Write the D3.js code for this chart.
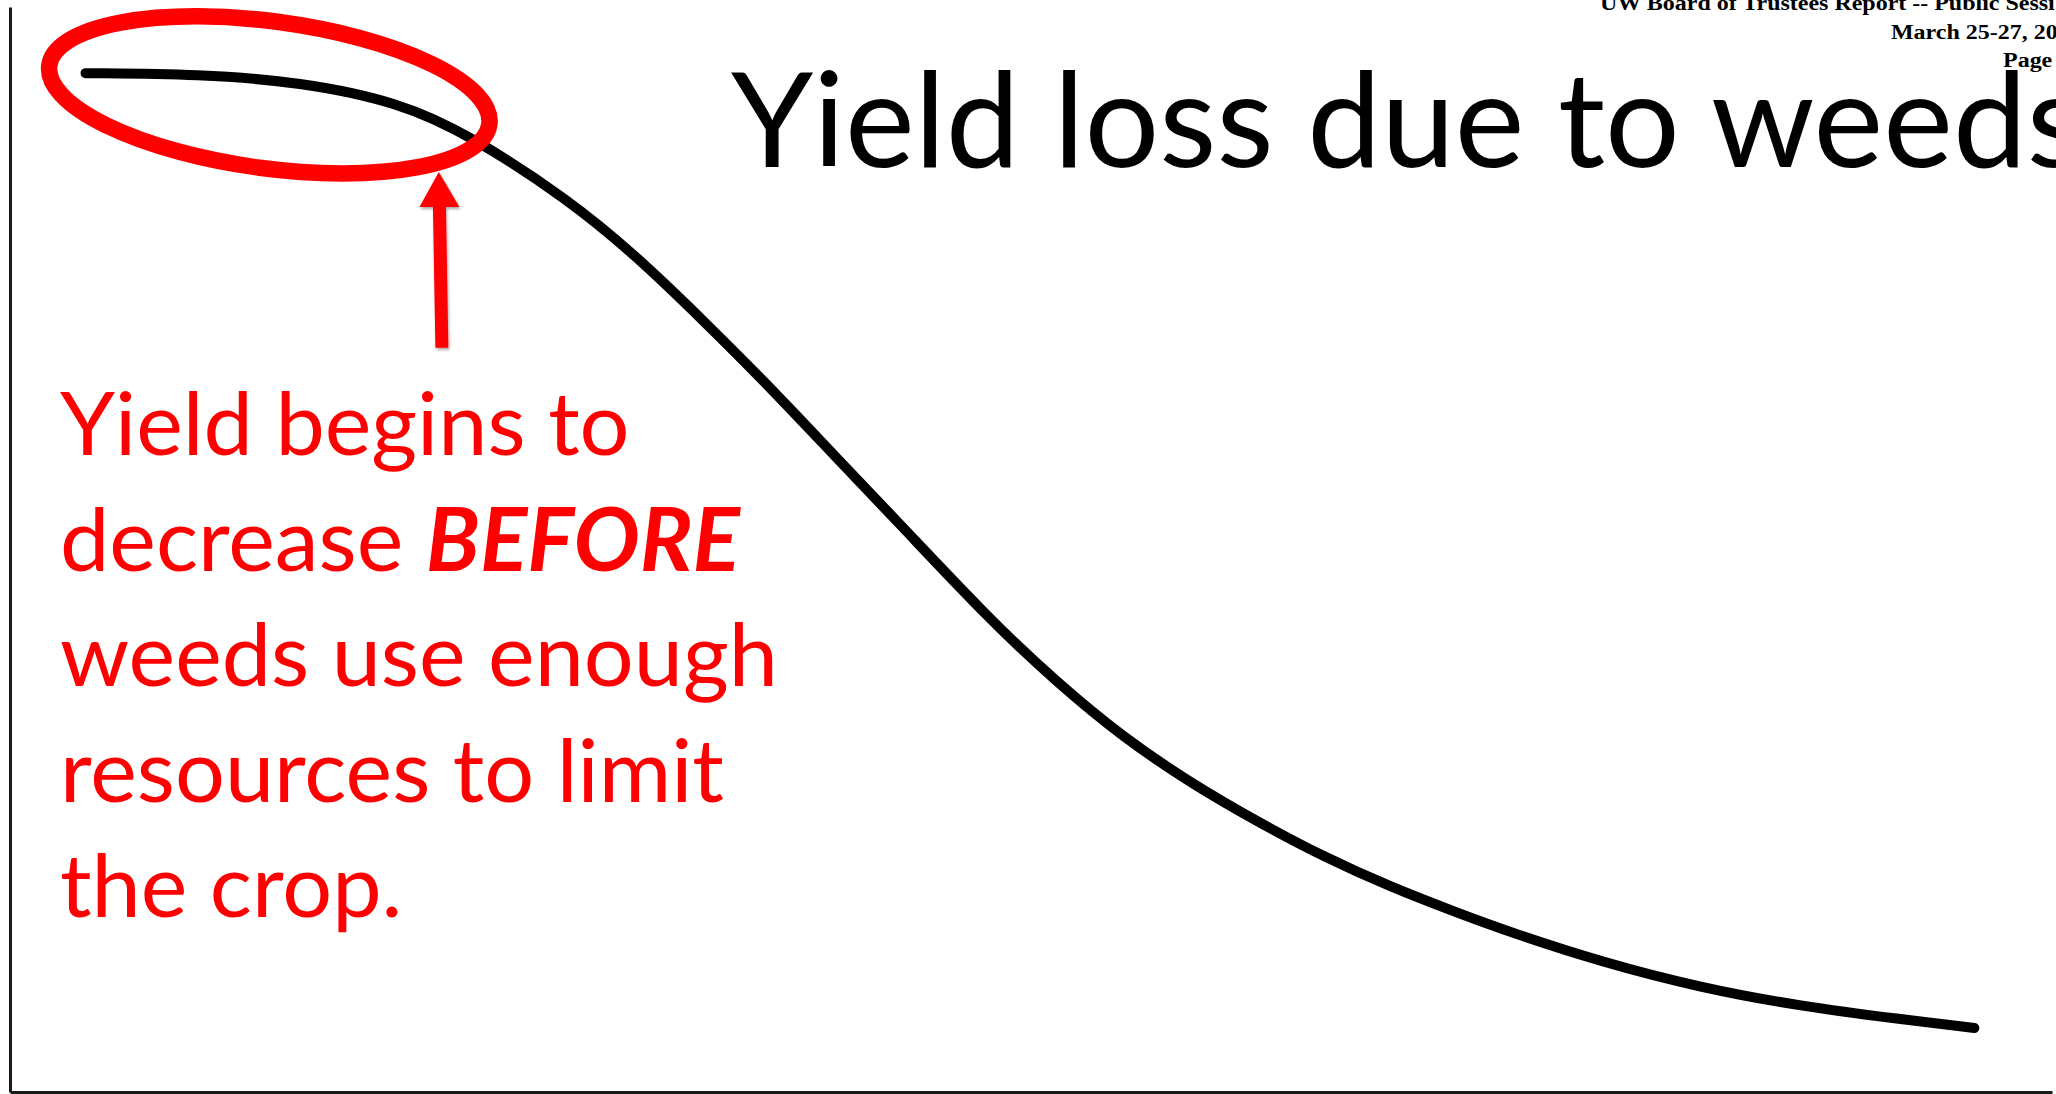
<!DOCTYPE html>
<html lang="en">
<head>
<meta charset="UTF-8">
<title>Yield loss due to weeds</title>
<style>
  body { margin: 0; background: #fff; }
  svg { display: block; }
  .title { font-family: Lato, "Open Sans", sans-serif; fill: #000; }
  .note { font-family: Lato, "Open Sans", sans-serif; fill: #ff0000; }
  .header { font-family: "Liberation Serif", "Times New Roman", serif; font-weight: bold; fill: #000; }
</style>
</head>
<body>
<svg width="2056" height="1094"></svg>
<script src="https://cdn.jsdelivr.net/npm/d3@7"></script>
<script>
// curve: weed density (%) vs crop yield (%)
const weedDensity = [3.7, 9.3, 14.2, 19.1, 22.5, 27.4, 30.7, 33.9, 37.2, 40.5, 43.7, 48.0, 51.3,
                     54.5, 57.8, 61.1, 64.3, 67.6, 70.9, 73.5, 77.9, 82.8, 87.7, 92.6, 96.2];
const cropYield   = [93.9, 93.8, 93.1, 91.2, 88.2, 82.2, 77.0, 71.2, 65.0, 58.4, 52.1, 43.5, 37.7,
                     32.7, 28.5, 24.9, 21.7, 18.9, 16.5, 14.7, 12.0, 9.6, 7.9, 6.7, 5.9];

const titleText = "Yield loss due to weeds";
const headerLines = ["UW Board of Trustees Report -- Public Sessi", "March 25-27, 20", "Page"];
const noteLines = [
  ["Yield begins to"],
  ["decrease ", "BEFORE"],
  ["weeds use enough"],
  ["resources to limit"],
  ["the crop."]
];

// annotation anchors in data units
const ringCenter = {x: 12.7, y: 91.9};
const arrowTip = {x: 21.0, y: 84.8};
const arrowTail = {x: 21.15, y: 68.6};

const svg = d3.select("svg"),
    width = +svg.attr("width"),
    height = +svg.attr("height");

const x = d3.scaleLinear().domain([0, 100]).range([10, 2052]);
const y = d3.scaleLinear().domain([0, 100]).range([1092, 7]);

const pts = weedDensity.map((d, i) => [d, cropYield[i]]);

// axes: plain lines, no ticks
svg.append("g")
    .attr("transform", "translate(" + x(0) + ",0)")
    .call(d3.axisLeft(y).tickValues([]).tickSizeOuter(0))
    .select(".domain").attr("stroke", "#1a1a1a").attr("stroke-width", 3);

svg.append("g")
    .attr("transform", "translate(0," + y(0) + ")")
    .call(d3.axisBottom(x).tickValues([]).tickSizeOuter(0))
    .select(".domain").attr("stroke", "#1a1a1a").attr("stroke-width", 3);

// yield curve
const line = d3.line()
    .x(d => x(d[0]))
    .y(d => y(d[1]))
    .curve(d3.curveBasis);

svg.append("path")
    .datum(pts)
    .attr("fill", "none")
    .attr("stroke", "#000")
    .attr("stroke-width", 10)
    .attr("stroke-linecap", "round")
    .attr("d", line);

// red ring round the flat start
svg.append("ellipse")
    .attr("transform", "translate(" + x(ringCenter.x) + "," + y(ringCenter.y) + ") rotate(7.6)")
    .attr("rx", 222)
    .attr("ry", 73.5)
    .attr("fill", "none")
    .attr("stroke", "#ff0000")
    .attr("stroke-width", 16.5);

// arrow pointing up at the ring
const defs = svg.append("defs");
defs.append("filter").attr("id", "shadow")
    .attr("x", "-50%").attr("y", "-20%").attr("width", "200%").attr("height", "140%")
  .append("feDropShadow")
    .attr("dx", 1).attr("dy", 2).attr("stdDeviation", 1.5)
    .attr("flood-color", "#000").attr("flood-opacity", 0.35);

const tx = x(arrowTip.x), ty = y(arrowTip.y);
const bx = x(arrowTail.x), by = y(arrowTail.y);
const headLen = 35, headHalf = 20, shaftHalf = 6.5;
const hy = ty + headLen;
const sx = tx + (bx - tx) * (headLen / (by - ty));
svg.append("path")
    .attr("fill", "#ff0000")
    .attr("filter", "url(#shadow)")
    .attr("d", d3.line()([
      [tx, ty], [sx + headHalf, hy], [sx + shaftHalf, hy], [bx + shaftHalf, by],
      [bx - shaftHalf, by], [sx - shaftHalf, hy], [sx - headHalf, hy]
    ]) + "Z");

// fit a font size so a piece of text spans the wanted width
function fitSize(sel, target, n) {
  sel.style("font-size", "100px");
  const node = sel.node();
  const w = n ? node.getSubStringLength(0, n) : node.getComputedTextLength();
  const size = 100 * target / w;
  sel.style("font-size", size + "px");
  return size;
}

// title
const title = svg.append("text")
    .attr("class", "title")
    .attr("x", 731)
    .attr("y", 167)
    .text(titleText);
fitSize(title, 1296, titleText.length - 1);

// header lines (stretched sideways, cut off at the right edge)
const headerX = [1600, 1891, 2003];
const headerY = [10, 39, 67];
svg.selectAll(".header")
  .data(headerLines)
  .enter().append("text")
    .attr("class", "header")
    .attr("transform", (d, i) => "translate(" + headerX[i] + "," + headerY[i] + ") scale(1.17,1)")
    .style("font-size", "20.5px")
    .text(d => d);

// red note
const probe = svg.append("text").attr("class", "note").text(noteLines[2][0]);
const noteSize = fitSize(probe, 718);
probe.remove();

const note = svg.append("g");
noteLines.forEach(function(parts, i) {
  const t = note.append("text")
      .attr("class", "note")
      .attr("x", 60)
      .attr("y", 455 + i * 115.5)
      .style("font-size", noteSize + "px");
  parts.forEach(function(p, j) {
    const s = t.append("tspan").text(p);
    if (j === 1) s.style("font-weight", "bold").style("font-style", "italic");
  });
});
</script>
</body>
</html>
